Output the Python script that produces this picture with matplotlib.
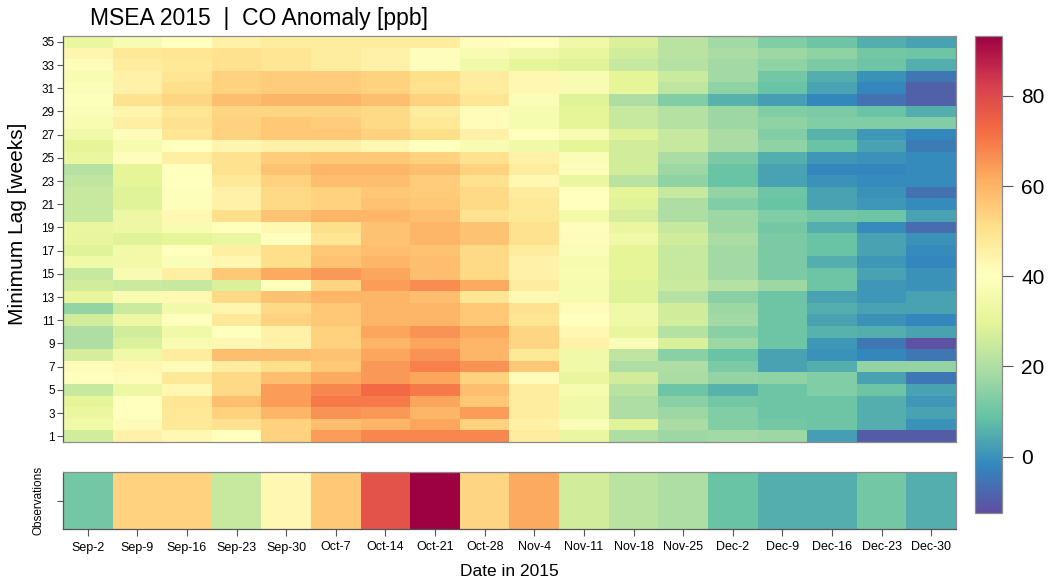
import numpy as np
import matplotlib
matplotlib.use("Agg")
import matplotlib.pyplot as plt
from matplotlib.colors import Normalize

plt.rcParams['font.family'] = ['Liberation Sans', 'DejaVu Sans']

dates = ['Sep-2', 'Sep-9', 'Sep-16', 'Sep-23', 'Sep-30', 'Oct-7', 'Oct-14', 'Oct-21', 'Oct-28',
         'Nov-4', 'Nov-11', 'Nov-18', 'Nov-25', 'Dec-2', 'Dec-9', 'Dec-16', 'Dec-23', 'Dec-30']
lags = np.arange(1, 36)

# CO anomaly [ppb] per date, listed from lag 35 (top row) down to lag 1
sep02 = [32, 44, 42, 37, 38, 39, 38, 37, 34, 30, 32, 21, 23, 24, 24, 24, 32, 31, 29, 34, 24, 26, 31, 16, 26, 20, 20, 27, 42, 40, 24, 30, 32, 34, 26]
sep09 = [37, 48, 47, 45, 45, 50, 44, 46, 42, 36, 41, 30, 30, 29, 29, 33, 33, 29, 35, 35, 37, 25, 37, 25, 33, 26, 28, 34, 43, 42, 33, 40, 40, 42, 45]
sep16 = [40, 49, 48, 49, 51, 53, 49, 50, 49, 40, 46, 40, 40, 39, 39, 43, 37, 30, 40, 38, 46, 24, 43, 35, 40, 34, 37, 47, 42, 48, 43, 49, 48, 48, 43]
sep23 = [45, 50, 50, 54, 54, 58, 53, 54, 54, 44, 50, 50, 48, 45, 45, 51, 40, 32, 46, 43, 56, 28, 52, 44, 48, 40, 43, 58, 47, 52, 52, 58, 54, 50, 40]
sep30 = [47, 49, 49, 55, 55, 60, 53, 56, 56, 45, 55, 57, 54, 52, 52, 57, 43, 40, 51, 51, 62, 39, 57, 52, 54, 45, 45, 58, 51, 58, 64, 64, 60, 54, 54]
oct07 = [47, 47, 47, 55, 55, 60, 53, 55, 56, 45, 56, 60, 58, 54, 54, 60, 51, 49, 56, 57, 65, 53, 60, 56, 56, 54, 54, 57, 56, 62, 68, 70, 66, 58, 64]
oct14 = [47, 45, 45, 54, 54, 58, 52, 52, 54, 43, 56, 60, 58, 56, 57, 60, 57, 57, 58, 60, 63, 64, 60, 60, 60, 63, 60, 63, 65, 65, 73, 70, 65, 60, 68]
oct21 = [47, 41, 41, 51, 50, 54, 47, 48, 51, 40, 54, 58, 55, 55, 56, 58, 60, 60, 57, 58, 58, 67, 58, 60, 60, 66, 63, 66, 69, 63, 70, 63, 60, 63, 68]
oct28 = [41, 37, 34, 47, 47, 49, 42, 42, 45, 37, 50, 54, 50, 52, 52, 50, 57, 57, 52, 52, 52, 62, 49, 56, 56, 62, 60, 60, 66, 54, 58, 56, 64, 54, 68]
nov04 = [40, 34, 30, 43, 43, 38, 36, 36, 40, 34, 45, 47, 43, 47, 48, 48, 50, 50, 47, 45, 45, 47, 43, 50, 49, 53, 53, 48, 56, 42, 47, 47, 47, 45, 47]
nov11 = [34, 31, 29, 37, 37, 29, 30, 30, 37, 30, 38, 39, 32, 40, 40, 35, 41, 42, 38, 36, 37, 36, 36, 42, 40, 43, 45, 34, 34, 31, 36, 34, 34, 38, 32]
nov18 = [28, 26, 24, 30, 30, 20, 24, 24, 29, 26, 26, 26, 22, 30, 29, 27, 32, 34, 30, 30, 30, 29, 29, 34, 34, 31, 38, 23, 20, 26, 22, 20, 20, 29, 20]
nov25 = [22, 22, 21, 25, 23, 13, 21, 21, 24, 24, 19, 17, 15, 24, 20, 20, 24, 26, 24, 24, 24, 25, 21, 26, 26, 21, 28, 14, 20, 19, 10, 14, 17, 19, 17]
dec02 = [18, 19, 18, 18, 15, 6, 17, 17, 19, 19, 12, 9, 9, 16, 13, 17, 17, 19, 18, 18, 18, 21, 14, 17, 18, 14, 17, 9, 12, 16, 6, 11, 13, 13, 18]
dec09 = [13, 17, 15, 11, 9, 2, 13, 15, 13, 15, 5, 3, 3, 10, 9, 13, 11, 12, 12, 12, 12, 17, 10, 10, 10, 10, 10, 3, 3, 15, 10, 10, 10, 11, 17]
dec16 = [10, 15, 12, 5, 3, -2, 12, 13, 6, 9, 1, -2, 0, 3, 3, 11, 5, 9, 9, 5, 10, 10, 3, 5, 3, 6, 1, 0, 5, 13, 13, 10, 10, 10, 2]
dec23 = [5, 11, 10, 0, -2, -6, 9, 13, 1, 3, 0, -2, -1, 0, 1, 10, -1, 3, 3, 1, 3, 1, 1, 3, 0, 5, -5, -2, 16, 3, 10, 5, 5, 5, -10]
dec30 = [3, 10, 5, -5, -9, -9, 5, 13, -2, -4, -1, -1, -1, -6, -1, 3, -7, 0, -1, -2, 0, 0, 3, 3, -2, 3, -12, -5, 16, -5, 3, 1, 3, 0, -10]

observations = [11, 54, 54, 24, 43, 56, 78, 93, 53, 62, 26, 22, 20, 9, 5, 5, 11, 5]

columns = [sep02, sep09, sep16, sep23, sep30, oct07, oct14, oct21, oct28,
           nov04, nov11, nov18, nov25, dec02, dec09, dec16, dec23, dec30]
anomaly = np.array(columns, dtype=float).T[::-1]  # rows -> lag 1..35

W, H = 1049, 583
fig = plt.figure(figsize=(W / 100, H / 100), dpi=100)
norm = Normalize(vmin=-12.5, vmax=93.3)
cmap = plt.get_cmap('Spectral_r')
frame = '#8c8c8c'

# main heatmap
ax = fig.add_axes([63 / W, 1 - 442 / H, 893 / W, 406 / H])
xe = np.arange(len(dates) + 1)
ye = np.arange(0.5, len(lags) + 1)
mesh = ax.pcolormesh(xe, ye, anomaly, cmap=cmap, norm=norm)
ax.set_xlim(0, len(dates))
ax.set_ylim(0.5, len(lags) + 0.5)
ax.set_xticks([])
ax.set_yticks(lags[::2])
ax.tick_params(axis='y', length=4, width=0.8, color='#555555', labelsize=8.5, pad=2)
for s in ax.spines.values():
    s.set_color(frame)
    s.set_linewidth(0.9)
ax.spines['left'].set_color('#555555')

# observation strip
ax2 = fig.add_axes([63 / W, 1 - 529 / H, 893 / W, 57 / H])
ax2.pcolormesh(xe, [0, 1], np.array(observations, dtype=float)[None, :], cmap=cmap, norm=norm)
ax2.set_xlim(0, len(dates))
ax2.set_ylim(0, 1)
ax2.set_xticks(np.arange(len(dates)) + 0.5)
ax2.set_xticklabels(dates)
ax2.set_yticks([0.5])
ax2.set_yticklabels([''])
ax2.tick_params(axis='x', length=5, width=0.8, color='#555555', labelsize=9, pad=4)
ax2.tick_params(axis='y', length=4, width=0.8, color='#555555')
ax2.set_ylabel('Observations', fontsize=8.5, labelpad=6)
for s in ax2.spines.values():
    s.set_color(frame)
    s.set_linewidth(0.9)
ax2.spines['left'].set_color('#555555')
ax2.spines['bottom'].set_color('#555555')

# colorbar
cax = fig.add_axes([975 / W, 1 - 513 / H, 27 / W, 477 / H])
cb = fig.colorbar(mesh, cax=cax, ticks=[0, 20, 40, 60, 80])
cb.outline.set_edgecolor(frame)
cb.outline.set_linewidth(0.9)
cax.tick_params(length=8, width=0.8, color='#555555', labelsize=15, pad=6)

fig.text(90 / W, 1 - 19 / H, 'MSEA 2015  |  CO Anomaly [ppb]', fontsize=16.5, va='center', ha='left')
fig.text(18 / W, 1 - 224 / H, 'Minimum Lag [weeks]', fontsize=15, rotation=90, va='center', ha='center')
fig.text(509 / W, 1 - 571 / H, 'Date in 2015', fontsize=12.5, va='center', ha='center')

fig.savefig('out.png', dpi=100)
